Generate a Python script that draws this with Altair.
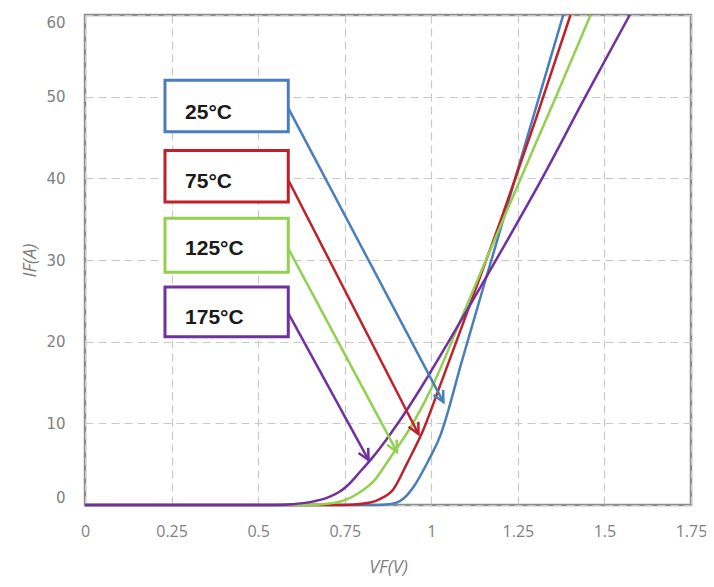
import math
import altair as alt
import pandas as pd

# ---- curve data ----
vf_25 = [0, 0.84, 0.88, 0.92, 0.95, 0.99, 1.026, 1.089, 1.15, 1.2, 1.25, 1.315, 1.381]
if_25 = [0, 0, 0.1, 0.8, 2.3, 5.3, 8.5, 17.7, 26.6, 33.8, 41.1, 50.5, 60]

vf_75 = [0, 0.74, 0.8, 0.85, 0.89, 0.93, 0.978, 1.02, 1.1, 1.2, 1.3, 1.402]
if_75 = [0, 0, 0.15, 0.7, 1.9, 5.1, 9.3, 14, 23.2, 34.8, 47, 60]

vf_125 = [0, 0.64, 0.7, 0.75, 0.795, 0.833, 0.88, 0.94, 0.997, 1.1, 1.2, 1.3, 1.36, 1.46]
if_125 = [0, 0, 0.15, 0.6, 1.6, 2.9, 5.7, 9.5, 14, 24.2, 34.2, 44.1, 50, 60]

vf_175 = [0, 0.55, 0.6, 0.65, 0.7, 0.73, 0.756, 0.795, 0.83, 0.87, 0.91, 0.968, 1.05, 1.145,
          1.222, 1.32, 1.445, 1.573]
if_175 = [0, 0, 0.1, 0.35, 0.9, 1.5, 2.3, 4.1, 5.8, 8, 10.4, 14.2, 20, 26.9, 32.6, 40, 50, 60]

series = ["25°C", "75°C", "125°C", "175°C"]
colors = ["#4a7ebb", "#c0202a", "#92d050", "#7030a0"]

# ---- annotation data ----
box_x0 = [0.231, 0.231, 0.231, 0.231]
box_x1 = [0.587, 0.587, 0.587, 0.587]
box_top = [52.0, 43.4, 35.1, 26.7]
box_bottom = [45.7, 37.1, 28.5, 20.6]
text_x = [0.289, 0.289, 0.289, 0.289]
text_y = [48.0, 39.6, 31.3, 22.9]
arrow_x0 = [0.587, 0.587, 0.587, 0.587]
arrow_y0 = [48.6, 39.8, 31.4, 23.5]
arrow_x1 = [1.035, 0.963, 0.901, 0.819]
arrow_y1 = [12.6, 8.7, 6.5, 5.5]

x_ticks = [0, 0.25, 0.5, 0.75, 1, 1.25, 1.5, 1.75]
y_ticks = [0, 10, 20, 30, 40, 50, 60]

W, H = 606, 490
XMAX, YMAX = 1.75, 60

rows = []
for name, xs, ys in zip(series, [vf_25, vf_75, vf_125, vf_175], [if_25, if_75, if_125, if_175]):
    for i, (a, b) in enumerate(zip(xs, ys)):
        rows.append({"s": name, "vf": a, "cur": b, "i": i})
curves = pd.DataFrame(rows)

sx, sy = W / XMAX, H / YMAX
ann = pd.DataFrame({
    "s": series,
    "bx0": box_x0, "bx1": box_x1, "bt": box_top, "bb": box_bottom,
    "tx": text_x, "ty": text_y,
    "ax0": arrow_x0, "ay0": arrow_y0, "ax1": arrow_x1, "ay1": arrow_y1,
})
ann["ang"] = [
    (-math.degrees(math.atan2((x1 - x0) * sx, (y0 - y1) * sy))) % 360
    for x0, y0, x1, y1 in zip(arrow_x0, arrow_y0, arrow_x1, arrow_y1)
]

xscale = alt.Scale(domain=[0, XMAX], nice=False, zero=False)
yscale = alt.Scale(domain=[0, YMAX], nice=False, zero=False)
cscale = alt.Scale(domain=series, range=colors)

xaxis = alt.Axis(values=x_ticks, labelExpr="'' + datum.value", title="VF(V)", grid=True,
                 ticks=False, domain=False, labelFlush=False, labelFont="Open Sans",
                 labelFontSize=16, labelColor="#7f7f7f", labelPadding=18,
                 titleFont="Open Sans", titleFontSize=18, titleFontStyle="italic",
                 titleFontWeight="normal", titleColor="#7f7f7f", titlePadding=19)
yaxis = alt.Axis(values=y_ticks, title="IF(A)", grid=True, ticks=False, domain=False,
                 labelFont="DejaVu Sans", labelFontSize=15, labelColor="#7f7f7f",
                 labelPadding=20, labelFlush=True, titleFont="Open Sans", titleFontSize=18,
                 titleFontStyle="italic", titleFontWeight="normal", titleColor="#7f7f7f",
                 titlePadding=6)

lines = alt.Chart(curves).mark_line(interpolate="monotone", strokeWidth=2.5).encode(
    x=alt.X("vf:Q", scale=xscale, axis=xaxis),
    y=alt.Y("cur:Q", scale=yscale, axis=yaxis),
    color=alt.Color("s:N", scale=cscale, legend=None),
    order="i:Q",
)

base = alt.Chart(ann)
arrows = base.mark_rule(strokeWidth=2.5).encode(
    x=alt.X("ax0:Q", scale=xscale), y=alt.Y("ay0:Q", scale=yscale),
    x2="ax1:Q", y2="ay1:Q",
    color=alt.Color("s:N", scale=cscale, legend=None),
)
heads = base.mark_point(shape="M-0.5,-1 L0,0 L0.5,-1", filled=False, strokeWidth=2.5,
                        size=480, opacity=1).encode(
    x=alt.X("ax1:Q", scale=xscale), y=alt.Y("ay1:Q", scale=yscale),
    angle=alt.Angle("ang:Q", scale=None),
    color=alt.Color("s:N", scale=cscale, legend=None),
)
boxes = base.mark_rect(fill="white", strokeWidth=3).encode(
    x=alt.X("bx0:Q", scale=xscale), x2="bx1:Q",
    y=alt.Y("bt:Q", scale=yscale), y2="bb:Q",
    stroke=alt.Color("s:N", scale=cscale, legend=None),
)
labels = base.mark_text(align="left", baseline="middle", font="Liberation Sans",
                        fontSize=21, fontWeight="bold", color="#1a1a1a").encode(
    x=alt.X("tx:Q", scale=xscale), y=alt.Y("ty:Q", scale=yscale), text="s:N",
)

chart = alt.layer(lines, arrows, heads, boxes, labels).properties(
    width=W, height=H,
    autosize=alt.AutoSizeParams(type="none"),
    padding={"left": 77, "top": 7, "right": 15, "bottom": 74},
).configure_view(stroke="#8c8c8c", strokeWidth=2.5).configure_axis(
    gridColor="#c8c8c8", gridDash=[8, 5], gridWidth=1.2
)

chart.save("out.html", embed_options={"renderer": "svg", "actions": False})
